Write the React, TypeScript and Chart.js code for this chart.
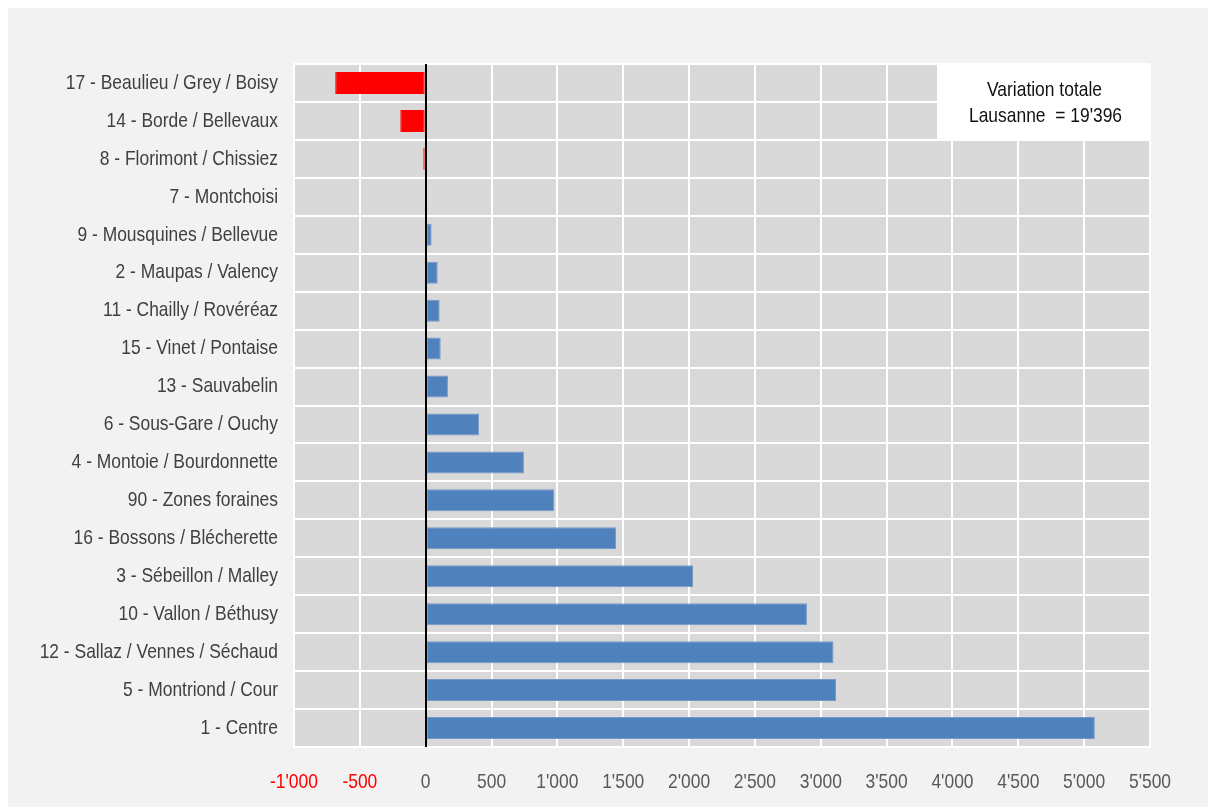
import React, { useEffect, useRef } from "react";
import { Chart, registerables } from "chart.js";

Chart.register(...registerables);

const categories: string[] = [
  "17 - Beaulieu / Grey / Boisy",
  "14 - Borde / Bellevaux",
  "8 - Florimont / Chissiez",
  "7 - Montchoisi",
  "9 - Mousquines / Bellevue",
  "2 - Maupas / Valency",
  "11 - Chailly / Rovéréaz",
  "15 - Vinet / Pontaise",
  "13 - Sauvabelin",
  "6 - Sous-Gare / Ouchy",
  "4 - Montoie / Bourdonnette",
  "90 - Zones foraines",
  "16 - Bossons / Blécherette",
  "3 - Sébeillon / Malley",
  "10 - Vallon / Béthusy",
  "12 - Sallaz / Vennes / Séchaud",
  "5 - Montriond / Cour",
  "1 - Centre",
];

const variation: number[] = [
  -687, -193, -18, 8, 45, 91, 106, 114, 169, 406, 746, 977, 1446, 2032, 2895, 3097, 3116, 5081,
];

const xMin = -1000;
const xMax = 5500;
const xStep = 500;

const annotationLines: string[] = ["Variation totale", "Lausanne  = 19'396"];

const FONT = "'Liberation Sans', Arial, sans-serif";
const SX = 0.83;

function fmt(v: number): string {
  const s = Math.abs(v).toString().replace(/\B(?=(\d{3})+(?!\d))/g, "'");
  return (v < 0 ? "-" : "") + s;
}

function drawCondensed(ctx: CanvasRenderingContext2D, text: string, x: number, y: number, align: CanvasTextAlign, color: string) {
  ctx.save();
  ctx.translate(x, y);
  ctx.scale(SX, 1);
  ctx.font = "21px " + FONT;
  ctx.fillStyle = color;
  ctx.textAlign = align;
  ctx.textBaseline = "middle";
  ctx.fillText(text, 0, 0);
  ctx.restore();
}

export default function App() {
  const ref = useRef<HTMLCanvasElement | null>(null);

  useEffect(() => {
    if (!ref.current) return;

    const bgPlugin = {
      id: "plotBg",
      beforeDraw(chart: any) {
        const { ctx, chartArea } = chart;
        ctx.save();
        ctx.fillStyle = "#d9d9d9";
        ctx.fillRect(chartArea.left, chartArea.top, chartArea.right - chartArea.left, chartArea.bottom - chartArea.top);
        ctx.restore();
      },
      afterDatasetsDraw(chart: any) {
        const { ctx, chartArea, scales } = chart;
        const x0 = Math.round(scales.x.getPixelForValue(0));
        ctx.save();
        ctx.strokeStyle = "#000000";
        ctx.lineWidth = 2;
        ctx.beginPath();
        ctx.moveTo(x0, chartArea.top);
        ctx.lineTo(x0, chartArea.bottom);
        ctx.stroke();
        ctx.restore();
      },
      afterDraw(chart: any) {
        const { ctx, chartArea, scales } = chart;
        categories.forEach((c, i) => {
          const y = scales.y.getPixelForValue(i);
          drawCondensed(ctx, c, chartArea.left - 16, y, "right", "#404040");
        });
        for (let v = xMin; v <= xMax; v += xStep) {
          const x = scales.x.getPixelForValue(v);
          drawCondensed(ctx, fmt(v), x, chartArea.bottom + 35, "center", v < 0 ? "#ff0000" : "#595959");
        }
        const w = 213;
        const h = 76;
        const left = chartArea.right - w;
        const top = chartArea.top;
        ctx.save();
        ctx.fillStyle = "#ffffff";
        ctx.fillRect(left, top, w, h);
        ctx.restore();
        drawCondensed(ctx, annotationLines[0], left + w / 2 + 1, top + 26, "center", "#111111");
        drawCondensed(ctx, annotationLines[1], left + w / 2 + 2, top + 52, "center", "#111111");
      },
    };

    const chart = new Chart(ref.current, {
      type: "bar",
      data: {
        labels: categories,
        datasets: [
          {
            data: variation,
            backgroundColor: variation.map((v) => (v < 0 ? "#ff0000" : "#4f81bd")),
            borderColor: variation.map((v) => (v < 0 ? "#ff0000" : "#7399c9")),
            borderWidth: 1,
            borderSkipped: false,
            barPercentage: 0.58,
            categoryPercentage: 1,
          },
        ],
      },
      options: {
        indexAxis: "y",
        animation: false,
        responsive: false,
        maintainAspectRatio: false,
        layout: { padding: { top: 56, right: 66, left: 0, bottom: 0 } },
        plugins: {
          legend: { display: false },
          tooltip: { enabled: false },
          title: { display: false },
        },
        scales: {
          x: {
            type: "linear",
            min: xMin,
            max: xMax,
            afterFit(scale: any) {
              scale.height = 60;
            },
            ticks: {
              stepSize: xStep,
              display: false,
            },
            grid: {
              color: "#ffffff",
              lineWidth: 2,
              drawTicks: false,
            },
            border: { display: true, color: "#ffffff", width: 2 },
          },
          y: {
            type: "category",
            afterFit(scale: any) {
              scale.width = 286;
            },
            ticks: {
              display: false,
            },
            grid: {
              color: "#ffffff",
              lineWidth: 2,
              drawTicks: false,
              offset: true,
            },
            border: { display: true, color: "#ffffff", width: 2 },
          },
        },
      },
      plugins: [bgPlugin],
    } as any);

    return () => chart.destroy();
  }, []);

  return (
    <div style={{ width: 1208, height: 799, background: "#f2f2f2" }}>
      <canvas ref={ref} width={1208} height={799} style={{ display: "block", background: "#f2f2f2" }} />
    </div>
  );
}
